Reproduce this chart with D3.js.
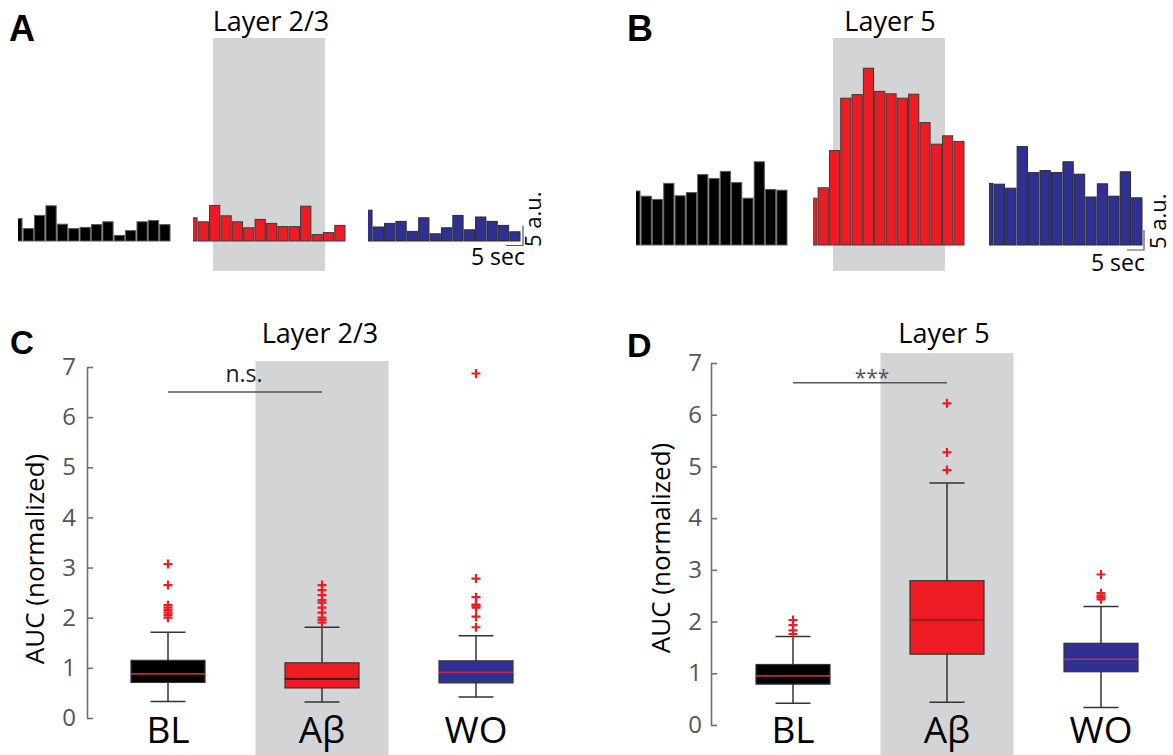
<!DOCTYPE html>
<html>
<head>
<meta charset="utf-8">
<script src="https://cdn.jsdelivr.net/npm/d3@7"></script>
<style>
  body { margin: 0; background: #fff; }
  text { font-family: "Open Sans", "Noto Sans", sans-serif; }
</style>
</head>
<body>
<div id="chart"></div>
<script>
// ---- data ----
// A/B: binned activity traces (a.u.), 14 bins per condition
const binIndex = d3.range(14);
const l23TraceBL = [5.6, 3.1, 6.4, 8.8, 4.2, 3.1, 3.4, 4.1, 4.8, 1.4, 2.6, 4.8, 5.1, 4.1];
const l23TraceAb = [5.8, 4.8, 8.9, 6.3, 4.8, 3.3, 5.4, 4.4, 3.6, 3.6, 8.7, 1.6, 2.1, 3.9];
const l23TraceWO = [7.7, 3.5, 4.4, 4.9, 2.4, 5.8, 1.8, 3.3, 6.4, 2.8, 6.0, 4.9, 3.9, 2.3];
const l5TraceBL = [13.5, 12.2, 11.4, 15.4, 12.3, 13.1, 17.6, 16.6, 18.4, 15.6, 11.7, 20.8, 13.9, 13.7];
const l5TraceAb = [11.7, 14.3, 23.6, 36.7, 37.6, 44.2, 38.4, 37.8, 36.7, 37.7, 30.6, 25.2, 27.3, 25.9];
const l5TraceWO = [15.4, 15.2, 14.2, 24.6, 18.1, 18.6, 18.1, 20.8, 17.7, 12.0, 15.3, 12.2, 18.3, 11.8];

// C/D: AUC (normalized) box plot summaries
const conditions = ["BL", "Aβ", "WO"];
const conditionColors = ["#000000", "#ed1c24", "#2e3192"];
const yTicks = [0, 1, 2, 3, 4, 5, 6, 7];

const l23Q1 = [0.71, 0.60, 0.70];
const l23Median = [0.88, 0.78, 0.91];
const l23Q3 = [1.15, 1.10, 1.14];
const l23WhiskerLo = [0.33, 0.32, 0.42];
const l23WhiskerHi = [1.71, 1.81, 1.64];
const l23Outliers = [
  [3.07, 2.65, 2.25, 2.2, 2.15, 2.1, 2.05, 2.0],
  [2.65, 2.55, 2.45, 2.35, 2.3, 2.2, 2.1, 2.0, 1.95, 1.9],
  [6.87, 2.78, 2.41, 2.26, 2.24, 2.2, 2.02, 1.81]
];
const l23MedianColors = ["#c8282e", "#3a1414", "#c8284a"];

const l5Q1 = [0.79, 1.37, 1.03];
const l5Median = [0.95, 2.03, 1.27];
const l5Q3 = [1.17, 2.79, 1.58];
const l5WhiskerLo = [0.42, 0.44, 0.34];
const l5WhiskerHi = [1.71, 4.68, 2.29];
const l5Outliers = [
  [2.03, 1.93, 1.83, 1.76],
  [6.22, 5.27, 4.93],
  [2.91, 2.55, 2.5, 2.47, 2.43]
];
const l5MedianColors = ["#c8282e", "#7a1c1c", "#c8284a"];

// ---- drawing ----
const width = 1173, height = 755;
const svg = d3.select("#chart").append("svg")
  .attr("width", width)
  .attr("height", height);

const shade = "#d3d4d6";

// shared trace scales: 5 a.u. = 20 px, 5 sec = 17 px
const auScale = d3.scaleLinear().domain([0, 5]).range([0, 20]);
const secScale = d3.scaleLinear().domain([0, 5]).range([0, 17]);

let clipId = 0;
function drawTrace(values, x0, x1, baseline, color, stroke) {
  const step = (x1 - x0) / 13.45;
  const x = d3.scaleBand().domain(binIndex).range([x0 - step * 0.55, x1]).paddingInner(0.1);
  const id = "clip" + (clipId++);
  svg.append("clipPath").attr("id", id)
    .append("rect").attr("x", x0).attr("y", 0).attr("width", x1 - x0 + 2).attr("height", baseline + 2);
  svg.append("g").attr("clip-path", "url(#" + id + ")")
    .selectAll("rect").data(values).enter().append("rect")
    .attr("x", (d, i) => x(i))
    .attr("width", x.bandwidth())
    .attr("y", d => baseline - auScale(d))
    .attr("height", d => auScale(d))
    .attr("fill", color)
    .attr("stroke", stroke)
    .attr("stroke-width", 1);
}

function scaleBar(cx, cy, textX, textY, auX, auY) {
  svg.append("path")
    .attr("d", `M${cx - secScale(5)},${cy}H${cx}V${cy - auScale(5)}`)
    .attr("fill", "none").attr("stroke", "#555").attr("stroke-width", 1.2);
  svg.append("text").attr("x", textX).attr("y", textY)
    .attr("text-anchor", "middle").style("font-size", "23px").text("5 sec");
  svg.append("text").attr("transform", `translate(${auX},${auY}) rotate(-90)`)
    .attr("text-anchor", "start").style("font-size", "22px").text("5 a.u.");
}

function panelLabel(t, x, y, size) {
  svg.append("text").attr("x", x).attr("y", y)
    .style("font-family", "Liberation Sans, Arial, sans-serif")
    .style("font-weight", "bold").style("font-size", size + "px").text(t);
}

// Panel A
svg.append("rect").attr("x", 213).attr("y", 38).attr("width", 112).attr("height", 233).attr("fill", shade);
svg.append("text").attr("x", 271).attr("y", 31).attr("text-anchor", "middle").style("font-size", "27px").text("Layer 2/3");
drawTrace(l23TraceBL, 18, 170, 241, "#000000", "#5a5a5a");
drawTrace(l23TraceAb, 193, 345, 241, "#ed1c24", "#3a3a3a");
drawTrace(l23TraceWO, 368, 520, 241, "#2e3192", "#2a2a2a");
scaleBar(523, 245.5, 498, 265, 541, 247);
panelLabel("A", 9, 41, 36);

// Panel B
svg.append("rect").attr("x", 833).attr("y", 38).attr("width", 112).attr("height", 233).attr("fill", shade);
svg.append("text").attr("x", 890).attr("y", 31).attr("text-anchor", "middle").style("font-size", "27px").text("Layer 5");
drawTrace(l5TraceBL, 636, 787, 245, "#000000", "#5a5a5a");
drawTrace(l5TraceAb, 813, 964, 245, "#ed1c24", "#3a3a3a");
drawTrace(l5TraceWO, 989, 1142, 245, "#2e3192", "#2a2a2a");
scaleBar(1144, 250, 1118, 271, 1166, 249);
panelLabel("B", 627, 41, 36);

// box plot panels
function boxPanel(opts) {
  const x = d3.scalePoint().domain(conditions).range(opts.xRange);
  const y = d3.scaleLinear().domain([0, 7]).range(opts.yRange);
  const g = svg.append("g");

  g.append("rect")
    .attr("x", x("Aβ") - 66.5).attr("y", opts.shadeTop)
    .attr("width", 133).attr("height", height - opts.shadeTop)
    .attr("fill", shade);

  g.append("text").attr("x", opts.titleX).attr("y", opts.titleY)
    .attr("text-anchor", "middle").style("font-size", "27px").text(opts.title);

  // y axis, ticks pointing inward
  const axis = g.append("g").attr("transform", `translate(${opts.axisX},0)`)
    .call(d3.axisLeft(y).tickValues(yTicks).tickFormat(d3.format("d"))
      .tickSizeInner(-6).tickSizeOuter(0).tickPadding(opts.tickPad));
  axis.select(".domain").attr("stroke", "#707070").attr("stroke-width", 1.6);
  axis.selectAll(".tick line").attr("stroke", "#707070").attr("stroke-width", 1.6);
  axis.selectAll(".tick text").attr("fill", "#555").style("font-size", "24px")
    .style("font-family", "Open Sans, sans-serif");

  g.append("text")
    .attr("transform", `translate(${opts.labelX},${opts.labelY}) rotate(-90)`)
    .attr("text-anchor", "middle").style("font-size", "26px").text("AUC (normalized)");

  // significance bar
  g.append("line")
    .attr("x1", x("BL")).attr("x2", x("Aβ"))
    .attr("y1", y(opts.sigLevel)).attr("y2", y(opts.sigLevel))
    .attr("stroke", "#555").attr("stroke-width", 1.5);
  g.append("text").attr("x", opts.sigX).attr("y", opts.sigY)
    .attr("text-anchor", "middle").attr("fill", opts.sigColor)
    .style("font-size", opts.sigSize + "px").text(opts.sigText);

  const boxW = 74, capW = 35;
  conditions.forEach((c, i) => {
    const cx = x(c);
    // whisker
    g.append("line").attr("x1", cx).attr("x2", cx)
      .attr("y1", y(opts.lo[i])).attr("y2", y(opts.hi[i]))
      .attr("stroke", "#333").attr("stroke-width", 1.5);
    [opts.lo[i], opts.hi[i]].forEach(v => {
      g.append("line").attr("x1", cx - capW / 2).attr("x2", cx + capW / 2)
        .attr("y1", y(v)).attr("y2", y(v))
        .attr("stroke", "#333").attr("stroke-width", 1.5);
    });
    // box
    g.append("rect")
      .attr("x", cx - boxW / 2).attr("width", boxW)
      .attr("y", y(opts.q3[i])).attr("height", y(opts.q1[i]) - y(opts.q3[i]))
      .attr("fill", conditionColors[i]).attr("stroke", "#333").attr("stroke-width", 1.2);
    g.append("line").attr("x1", cx - boxW / 2).attr("x2", cx + boxW / 2)
      .attr("y1", y(opts.med[i])).attr("y2", y(opts.med[i]))
      .attr("stroke", opts.medColors[i]).attr("stroke-width", 1.6);
    // outliers
    g.selectAll(null).data(opts.out[i]).enter().append("path")
      .attr("d", d => `M${cx - 4.5},${y(d)}H${cx + 4.5}M${cx},${y(d) - 4.5}V${y(d) + 4.5}`)
      .attr("stroke", "#ed1c24").attr("stroke-width", 2.2).attr("fill", "none");
    // category label
    g.append("text").attr("x", cx).attr("y", opts.catY)
      .attr("text-anchor", "middle").style("font-size", "37px").text(c);
  });
}

boxPanel({
  xRange: [168, 476], yRange: [718, 367], axisX: 87, tickPad: 11,
  shadeTop: 361, title: "Layer 2/3", titleX: 320, titleY: 343,
  labelX: 44, labelY: 559,
  sigLevel: 6.5, sigText: "n.s.", sigX: 244, sigY: 382, sigColor: "#222", sigSize: 23,
  q1: l23Q1, med: l23Median, q3: l23Q3, lo: l23WhiskerLo, hi: l23WhiskerHi,
  out: l23Outliers, medColors: l23MedianColors, catY: 743
});
panelLabel("C", 10, 354, 33);

boxPanel({
  xRange: [793, 1101], yRange: [725, 363], axisX: 711, tickPad: 9,
  shadeTop: 353, title: "Layer 5", titleX: 944, titleY: 343,
  labelX: 670, labelY: 548,
  sigLevel: 6.62, sigText: "***", sigX: 872, sigY: 385, sigColor: "#555", sigSize: 21,
  q1: l5Q1, med: l5Median, q3: l5Q3, lo: l5WhiskerLo, hi: l5WhiskerHi,
  out: l5Outliers, medColors: l5MedianColors, catY: 743
});
panelLabel("D", 627, 357, 34);
</script>
</body>
</html>
